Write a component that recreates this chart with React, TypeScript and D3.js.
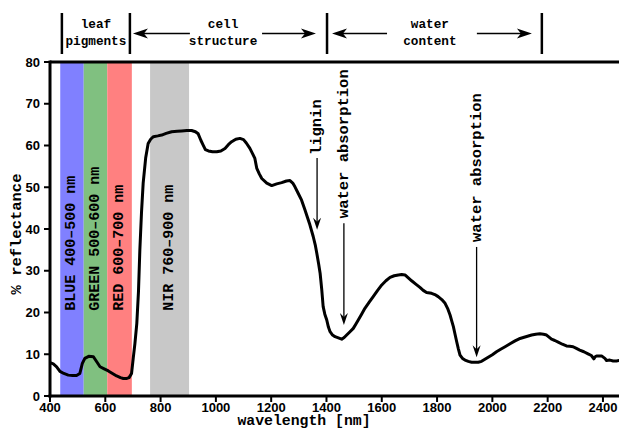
import * as d3 from 'd3';

// reflectance curve
const wavelengths = [
  400, 412, 424, 436, 450, 466, 482, 496, 508, 517, 526, 540, 557, 569, 581, 596, 611, 626, 641, 655,
  665, 678, 686, 695, 701, 707, 714, 720, 725, 731, 737, 746, 755, 764, 774, 790, 804, 820, 840, 860,
  876, 895, 912, 926, 936, 946, 954, 962, 973, 988, 1003, 1018, 1033, 1045, 1057, 1072, 1087, 1100, 1110, 1123,
  1133, 1141, 1148, 1157, 1166, 1184, 1202, 1220, 1238, 1255, 1268, 1278, 1286, 1298, 1310, 1322, 1331, 1340, 1352, 1360,
  1365, 1372, 1377, 1383, 1388, 1394, 1401, 1407, 1413, 1422, 1431, 1443, 1455, 1464, 1473, 1485, 1497, 1506, 1515, 1527,
  1539, 1554, 1569, 1585, 1600, 1615, 1630, 1645, 1660, 1672, 1684, 1696, 1708, 1723, 1738, 1750, 1762, 1780, 1792, 1804,
  1817, 1829, 1838, 1847, 1853, 1859, 1865, 1871, 1877, 1883, 1892, 1901, 1913, 1925, 1949, 1961, 1973, 1985, 2000, 2015,
  2030, 2046, 2064, 2082, 2097, 2112, 2127, 2142, 2157, 2172, 2185, 2196, 2205, 2214, 2226, 2238, 2253, 2268, 2280, 2292,
  2304, 2316, 2331, 2346, 2358, 2367, 2372, 2377, 2395, 2407, 2413, 2425, 2437, 2449, 2460,
];
const reflectance = [
  8.0, 7.7, 7.0, 5.9, 5.4, 5.0, 4.9, 4.9, 5.4, 7.8, 9.0, 9.5, 9.4, 8.2, 7.0, 6.5, 6.0, 5.4, 4.8, 4.4,
  4.2, 4.2, 4.4, 5.4, 9.0, 12.5, 17.4, 25, 35, 44, 51, 57, 60.5, 61.5, 62.1, 62.3, 62.5, 62.9, 63.3, 63.4,
  63.5, 63.6, 63.6, 63.3, 62.8, 61.2, 60.1, 59.0, 58.7, 58.5, 58.5, 58.7, 59.3, 60.2, 60.9, 61.5, 61.7, 61.4, 60.6, 59.3,
  58.0, 56.9, 54.5, 53.2, 52.1, 51.0, 50.4, 50.8, 51.1, 51.5, 51.6, 51.0, 50.1, 48.5, 46.9, 44.6, 42.8, 41.0, 38.2, 36.0,
  34.2, 31.5, 29.4, 25.4, 21.4, 19.6, 18.2, 16.5, 15.4, 14.6, 14.2, 13.9, 13.6, 14.0, 14.6, 15.4, 16.2, 17.2, 18.2, 19.6,
  21.0, 22.4, 23.8, 25.3, 26.6, 27.6, 28.4, 28.8, 29.0, 29.1, 29.0, 28.3, 27.6, 26.8, 26.0, 25.3, 24.8, 24.6, 24.3, 23.8,
  23.1, 22.2, 21.0, 19.4, 18.0, 16.6, 14.8, 13.0, 11.3, 9.8, 9.0, 8.6, 8.3, 8.1, 8.1, 8.3, 8.8, 9.3, 9.9, 10.6,
  11.2, 11.8, 12.5, 13.2, 13.7, 14.0, 14.3, 14.6, 14.8, 14.9, 14.8, 14.6, 14.1, 13.6, 13.3, 12.9, 12.4, 12.0, 11.9, 11.8,
  11.4, 11.0, 10.6, 10.1, 9.7, 8.9, 9.4, 9.6, 9.6, 9.0, 8.5, 8.6, 8.4, 8.4, 8.5,
];

// coloured bands
const bandLabels = ['BLUE 400\u2013500 nm', 'GREEN 500\u2013600 nm', 'RED 600\u2013700 nm', 'NIR 760\u2013900 nm'];
const bandStart = [437, 522, 607, 762];
const bandEnd = [522, 607, 696, 903];
const bandColors = ['#8080ff', '#80c080', '#ff8080', '#c8c8c8'];

// arrows inside the plot
const noteLabels = ['lignin', 'water absorption', 'water absorption'];
const noteWavelength = [1366, 1463, 1943];
const noteTextBottom = [57.7, 42.6, 36.9];
const noteArrowFrom = [57.0, 41.4, 35.7];
const noteArrowTo = [39.8, 17.0, 9.3];

// header above the plot
const headerDividers = [443, 689, 1402, 2179];
const headerLines1 = ['leaf', 'cell', 'water'];
const headerLines2 = ['pigments', 'structure', 'content'];
const headerCenters = [566, 1026, 1774];
const headerArrows = [
  [906, 700],
  [1167, 1362],
  [1619, 1420],
  [1944, 2143],
];

const xTicks = [400, 600, 800, 1000, 1200, 1400, 1600, 1800, 2000, 2200, 2400];
const yTicks = [0, 10, 20, 30, 40, 50, 60, 70, 80];

const W = 619;
const H = 430;
const MONO = '"Liberation Mono", "DejaVu Sans Mono", monospace';
const SANS = '"Liberation Sans", Arial, sans-serif';

function Head({ x, y, dir, len, half, notch }) {
  // filled arrow head, tip at (x, y), pointing left (-1), right (1), or down (2)
  let d;
  if (dir === 2) {
    d = `M${x},${y} L${x - half},${y - len} L${x},${y - notch} L${x + half},${y - len} Z`;
  } else {
    const s = dir;
    d = `M${x},${y} L${x - s * len},${y - half} L${x - s * notch},${y} L${x - s * len},${y + half} Z`;
  }
  return <path d={d} fill="#000" />;
}

export default function App() {
  const x = d3.scaleLinear().domain([400, 2500]).range([50, 630.6]);
  const y = d3.scaleLinear().domain([0, 80]).range([396, 62]);

  const points = wavelengths.map((w, i) => [w, reflectance[i]]);
  const line = d3.line().x(d => x(d[0])).y(d => y(d[1]));

  const headerY1 = 13;
  const headerY2 = 54;
  const arrowY = 33.5;

  return (
    <div style={{ position: 'absolute', left: 0, top: 0 }}>
      <svg width={W} height={H} viewBox={`0 0 ${W} ${H}`} style={{ display: 'block', background: '#fff' }}>
        {/* bands */}
        {bandStart.map((b, i) => (
          <rect
            key={`band-${i}`}
            x={x(b)}
            y={y(80)}
            width={x(bandEnd[i]) - x(b)}
            height={y(0) - y(80)}
            fill={bandColors[i]}
          />
        ))}
        {bandStart.map((b, i) => {
          const cx = x((b + bandEnd[i]) / 2);
          return (
            <text
              key={`bl-${i}`}
              transform={`translate(${cx},${y(20.4)}) rotate(-90)`}
              dominantBaseline="central"
              fontFamily={MONO}
              fontWeight="bold"
              fontSize={15}
              fill="#000"
            >
              {bandLabels[i]}
            </text>
          );
        })}

        {/* curve */}
        <path d={line(points)} fill="none" stroke="#000" strokeWidth={3} strokeLinejoin="round" />

        {/* notes with arrows */}
        {noteLabels.map((t, i) => {
          const nx = x(noteWavelength[i]);
          return (
            <g key={`note-${i}`}>
              <text
                transform={`translate(${nx},${y(noteTextBottom[i])}) rotate(-90)`}
                dominantBaseline="central"
                fontFamily={MONO}
                fontWeight="bold"
                fontSize={15.5}
                fill="#000"
              >
                {t}
              </text>
              <line x1={nx} x2={nx} y1={y(noteArrowFrom[i])} y2={y(noteArrowTo[i]) - 6} stroke="#000" strokeWidth={1.3} />
              <Head x={nx} y={y(noteArrowTo[i])} dir={2} len={12} half={4} notch={8} />
            </g>
          );
        })}

        {/* frame */}
        <line x1={50} x2={W} y1={y(80)} y2={y(80)} stroke="#000" strokeWidth={3} />
        <line x1={48.5} x2={W} y1={y(0)} y2={y(0)} stroke="#000" strokeWidth={3} />
        <line x1={50} x2={50} y1={y(80) - 1.5} y2={y(0) + 1.5} stroke="#000" strokeWidth={3} />

        {/* y axis */}
        {yTicks.map(t => (
          <g key={`yt-${t}`} transform={`translate(0,${y(t)})`}>
            <line x1={44} x2={50} stroke="#000" strokeWidth={2} />
            <text x={40} dy="0.36em" textAnchor="end" fontFamily={SANS} fontWeight="bold" fontSize={13} fill="#000">
              {t}
            </text>
          </g>
        ))}
        <text
          transform={`translate(17,234) rotate(-90)`}
          textAnchor="middle"
          dominantBaseline="central"
          fontFamily={MONO}
          fontWeight="bold"
          fontSize={15.5}
          fill="#000"
        >
          % reflectance
        </text>

        {/* x axis */}
        {xTicks.map(t => (
          <g key={`xt-${t}`} transform={`translate(${x(t)},${y(0)})`}>
            <line y1={0} y2={6} stroke="#000" strokeWidth={2} />
            <text y={15.5} textAnchor="middle" fontFamily={SANS} fontWeight="bold" fontSize={13} fill="#000">
              {t}
            </text>
          </g>
        ))}
        <text x={304} y={425} textAnchor="middle" fontFamily={MONO} fontWeight="bold" fontSize={14.8} fill="#000">
          wavelength [nm]
        </text>

        {/* header */}
        {headerDividers.map((d, i) => (
          <line key={`hd-${i}`} x1={x(d)} x2={x(d)} y1={headerY1} y2={headerY2} stroke="#000" strokeWidth={2.5} />
        ))}
        {headerCenters.map((c, i) => (
          <g key={`ht-${i}`}>
            <text x={x(c)} y={28} textAnchor="middle" fontFamily={MONO} fontWeight="bold" fontSize={12.7} fill="#000">
              {headerLines1[i]}
            </text>
            <text x={x(c)} y={44.5} textAnchor="middle" fontFamily={MONO} fontWeight="bold" fontSize={12.7} fill="#000">
              {headerLines2[i]}
            </text>
          </g>
        ))}
        {headerArrows.map(([from, to], i) => {
          const dir = to > from ? 1 : -1;
          return (
            <g key={`ha-${i}`}>
              <line x1={x(from)} x2={x(to) - dir * 8} y1={arrowY} y2={arrowY} stroke="#000" strokeWidth={1.3} />
              <Head x={x(to)} y={arrowY} dir={dir} len={15} half={5} notch={11} />
            </g>
          );
        })}
      </svg>
    </div>
  );
}
